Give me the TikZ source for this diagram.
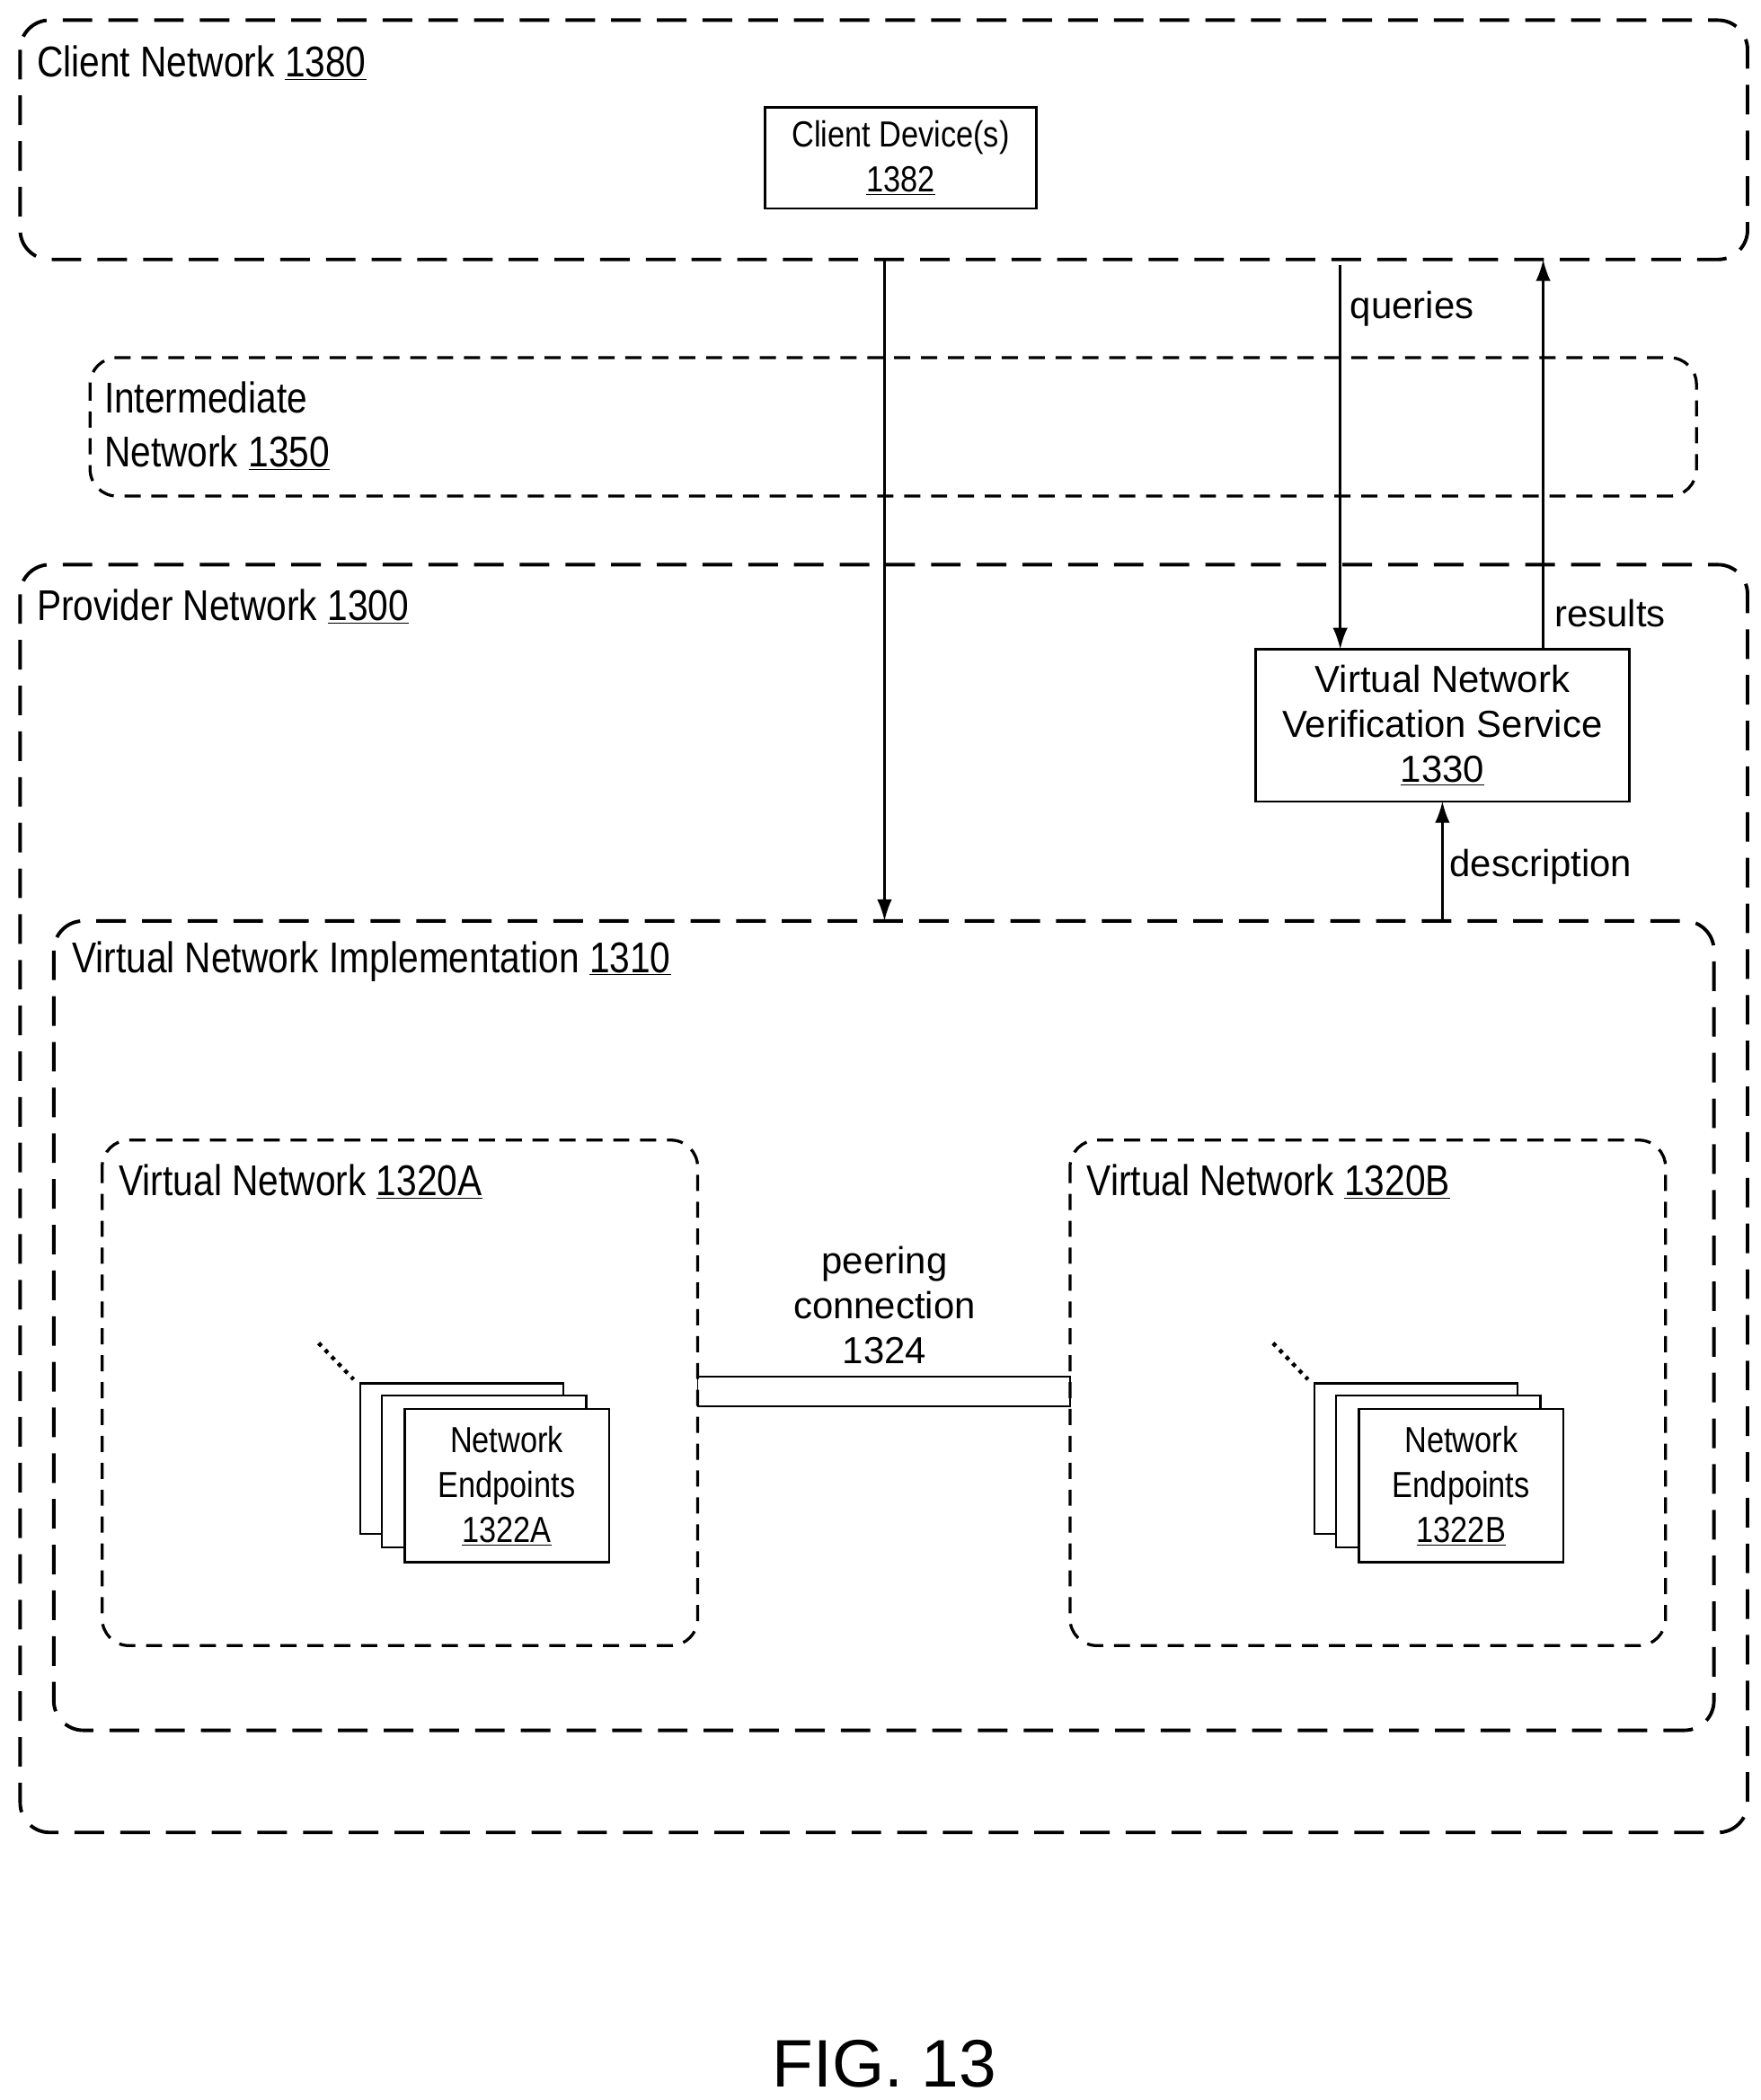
\documentclass[tikz,border=0pt]{standalone}
\usepackage{fontspec}
\setmainfont{Liberation Sans}
\begin{document}
\begin{tikzpicture}[x=1pt,y=-1pt,
  big/.style={draw,line width=2.6pt,rounded corners=22pt,dash pattern=on 22pt off 12pt},
  mid/.style={draw,line width=2.2pt,rounded corners=20pt,dash pattern=on 12pt off 8pt},
  box/.style={draw,line width=1.6pt,fill=white},
  lab/.style={anchor=west,font=\fontsize{32}{40}\selectfont},
  txt/.style={align=center,font=\fontsize{28}{33.5}\selectfont},
  small/.style={align=center,font=\fontsize{27}{33.5}\selectfont},
  arr/.style={line width=1.6pt,-{Latex[length=16pt,width=11pt]}}]
\usetikzlibrary{arrows.meta}
\useasboundingbox (0,0) rectangle (1310,1562);
\draw[big] (15,15) rectangle (1300,193);
\node[lab] (cn) at (24,47) {\scalebox{0.85}[1]{Client Network \underline{1380}}};
\node[box,minimum width=202pt,minimum height=75pt] (cd) at (670,117.5) {};
\node[small] at (cd) {\scalebox{0.85}[1]{Client Device(s)}\\\scalebox{0.85}[1]{\underline{1382}}};
\draw[mid] (67,266) rectangle (1262,369);
\node[lab,align=left] (in) at (74,317) {\scalebox{0.85}[1]{Intermediate}\\\scalebox{0.85}[1]{Network \underline{1350}}};
\draw[big] (15,420) rectangle (1300,1363);
\node[lab] (pn) at (24,451) {\scalebox{0.85}[1]{Provider Network \underline{1300}}};
\node[box,minimum width=278pt,minimum height=113pt] (vs) at (1073,539.5) {};
\node[txt] at (vs) {Virtual Network\\Verification Service\\\underline{1330}};
\draw[big] (40,685) rectangle (1275,1287);
\node[lab] (vi) at (50,715) {\scalebox{0.85}[1]{Virtual Network Implementation \underline{1310}}};
\draw[mid] (76,848) rectangle (519,1224);
\draw[mid] (796,848) rectangle (1239,1224);
\node[lab] (va) at (85,879) {\scalebox{0.85}[1]{Virtual Network \underline{1320A}}};
\node[lab] (vb) at (805,879) {\scalebox{0.85}[1]{Virtual Network \underline{1320B}}};
\draw[line width=0.8pt] (519,1024) rectangle (796,1046);
\node[txt] (pc) at (658,971) {peering\\connection\\1324};
\foreach \dx/\s in {0/A,710/B}{
  \draw[box] (268+\dx,1029) rectangle (419+\dx,1141);
  \draw[box] (284+\dx,1038) rectangle (436+\dx,1151);
  \draw[box] (301+\dx,1048) rectangle (453+\dx,1162);
  \node[small] at (377+\dx,1105) {\scalebox{0.85}[1]{Network}\\\scalebox{0.85}[1]{Endpoints}\\\scalebox{0.85}[1]{\underline{1322\s}}};
  \draw[line width=3pt,dash pattern=on 3pt off 4pt] (237+\dx,999) -- (263+\dx,1026);
}
\coordinate (a1) at (658,193); \coordinate (a2) at (658,685);
\draw[arr] (a1) -- (a2);
\coordinate (q1) at (997,197); \coordinate (q2) at (997,483);
\draw[arr] (q1) -- (q2);
\node[txt,anchor=west] at (1001,230) {queries};
\coordinate (r1) at (1148,483); \coordinate (r2) at (1148,193);
\draw[arr] (r1) -- (r2);
\node[txt,anchor=west] at (1153,456) {results};
\coordinate (d1) at (1073,685); \coordinate (d2) at (1073,596);
\draw[arr] (d1) -- (d2);
\node[txt,anchor=west] at (1075,645) {description};
\node[font=\fontsize{50}{54}\selectfont] (fig) at (658,1535) {FIG. 13};
\end{tikzpicture}
\end{document}
